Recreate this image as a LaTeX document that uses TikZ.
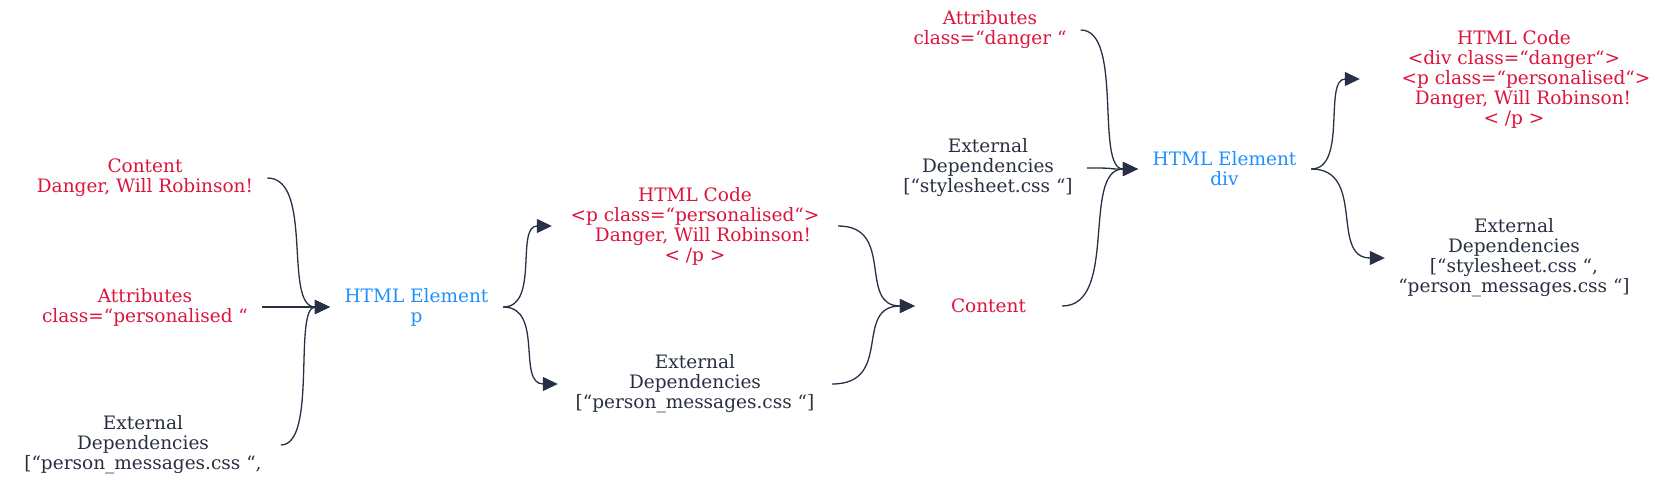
\documentclass[tikz,border=0pt]{standalone}
\usepackage{fontspec}
\setmainfont{DejaVu Serif}
\usetikzlibrary{arrows.meta,calc}
\definecolor{txtred}{HTML}{DC143C}
\definecolor{txtblue}{HTML}{1E90FF}
\definecolor{txtdark}{HTML}{282F40}
\definecolor{linedark}{HTML}{283044}
\newcommand\curvelink[2]{\draw[link] let \p1=(#1.east), \p2=(#2.west) in (\p1) .. controls ({\x1+0.75*(\x2-\x1)},\y1) and ({\x2-0.75*(\x2-\x1)},\y2) .. (\p2);}
\begin{document}
\begin{tikzpicture}[x=1pt,y=-1pt,
  lbl/.style={align=center,font=\fontsize{18.5}{20}\selectfont,inner ysep=0pt,inner xsep=14pt},
  redlbl/.style={lbl,text=txtred},
  bluelbl/.style={lbl,text=txtblue,inner xsep=0pt},
  darklbl/.style={lbl,text=txtdark},
  link/.style={draw=linedark,line width=1.3pt,-{Triangle[length=15pt,width=14pt]}}
]
\useasboundingbox (0,0) rectangle (1676,486);
% left column
\node[redlbl] (c1) at (145,178) {Content\\Danger, Will Robinson!};
\node[redlbl] (a1) at (145,307) {Attributes\\class=“personalised “};
\node[darklbl,inner xsep=19pt] (e1) at (143,445) {External\\Dependencies\\{}[“person\_messages.css “,};
\node[bluelbl,minimum width=173pt] (hp) at (416.5,307) {HTML Element\\p};
% second column
\node[redlbl,inner xsep=0pt,minimum width=286pt] (hc1) at (695,226) {HTML Code\\<p class=“personalised“>\\\hspace*{16pt}Danger, Will Robinson!\\< /p >};
\node[darklbl,inner xsep=0pt,minimum width=274pt] (e2) at (695,384) {External\\Dependencies\\{}[“person\_messages.css “]};
% third column
\node[redlbl,inner xsep=0pt,minimum width=147pt] (c2) at (988.5,306) {Content};
\node[redlbl] (a2) at (990,30) {Attributes\\class=“danger “};
\node[darklbl] (e3) at (988,168) {External\\Dependencies\\{}[“stylesheet.css “]};
\node[bluelbl,minimum width=173pt] (hd) at (1224.5,169) {HTML Element\\div};
% right column
\node[redlbl,inner xsep=0pt,minimum width=308pt] (hc2) at (1514,79) {HTML Code\\<div class=“danger“>\\\hspace*{24pt}<p class=“personalised“>\\\hspace*{18pt}Danger, Will Robinson!\\< /p >};
\node[darklbl,inner xsep=0pt,minimum width=258pt] (e4) at (1514,258) {External\\Dependencies\\{}[“stylesheet.css “,\\“person\_messages.css “]};
% connectors
\curvelink{c1}{hp}
\curvelink{a1}{hp}
\curvelink{e1}{hp}
\curvelink{hp}{hc1}
\curvelink{hp}{e2}
\curvelink{hc1}{c2}
\curvelink{e2}{c2}
\curvelink{a2}{hd}
\curvelink{e3}{hd}
\curvelink{c2}{hd}
\curvelink{hd}{hc2}
\curvelink{hd}{e4}
\end{tikzpicture}
\end{document}
